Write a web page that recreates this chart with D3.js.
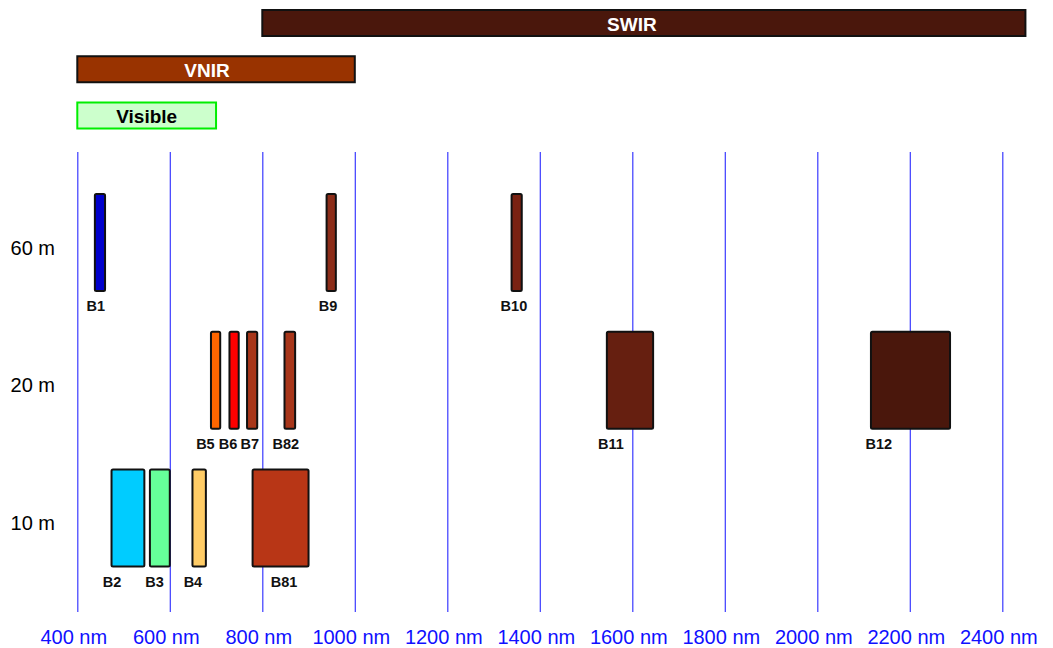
<!DOCTYPE html>
<html><head><meta charset="utf-8">
<script src="https://cdn.jsdelivr.net/npm/d3@7"></script>
<style>
body{margin:0;background:#fff;}
svg{display:block;font-family:"Liberation Sans",Arial,sans-serif;}
</style></head>
<body><svg id="c" width="1053" height="648"></svg>
<script>
// ---- data ----
const tickValues = [400, 600, 800, 1000, 1200, 1400, 1600, 1800, 2000, 2200, 2400];
const resolutions = ["60 m", "20 m", "10 m"];
const bandNames = ["B1","B2","B3","B4","B5","B6","B7","B81","B82","B9","B10","B11","B12"];
const bandStart = [438, 474, 557, 649, 689, 729, 767, 779, 848, 939, 1339, 1545, 2116];
const bandEnd   = [460, 545, 600, 678, 709, 749, 789, 900, 871, 959, 1361, 1645, 2287];
const bandRes   = ["60 m","10 m","10 m","10 m","20 m","20 m","20 m","10 m","20 m","60 m","60 m","20 m","20 m"];
const labelNm   = [440, 475, 567, 650, 677, 726, 773, 847, 851, 942, 1344, 1554, 2133];
const regionNames = ["SWIR", "VNIR", "Visible"];
const regionStart = [800, 400, 400];
const regionEnd   = [2450, 1000, 700];

// ---- styles ----
const bandColor = {B1:"#0000cc",B2:"#00ccff",B3:"#66ff99",B4:"#ffcc66",B5:"#ff6600",B6:"#ff0000",
  B7:"#a8361a",B81:"#b83616",B82:"#a8361a",B9:"#8c2d19",B10:"#7a2212",B11:"#661f10",B12:"#4a170c"};
const regionFill = {SWIR:"#4a170c", VNIR:"#993300", Visible:"#ccffcc"};
const regionStroke = {SWIR:"#111", VNIR:"#111", Visible:"#00ee00"};
const regionText = {SWIR:"#fff", VNIR:"#fff", Visible:"#000"};

const svg = d3.select("#c");
const x = d3.scaleLinear().domain([400, 2400]).range([77.3, 1002.3]);
const yRow = d3.scalePoint().domain(resolutions).range([242.5, 518]);
const yReg = d3.scalePoint().domain(regionNames).range([23, 115.5]);
const bandH = 97, regH = 26;
const axisY = 612, gridTop = 152;

// grid + axis
const axis = d3.axisBottom(x).tickValues(tickValues).tickSize(-(axisY - gridTop))
  .tickPadding(18).tickFormat(d => d + " nm");
const ag = svg.append("g").attr("transform", `translate(0,${axisY})`).call(axis);
ag.select(".domain").remove();
ag.selectAll(".tick line").attr("stroke", "#3a3aff").attr("stroke-width", 1.2);
ag.selectAll(".tick text").attr("fill", "#1010ff").attr("font-size", 20)
  .attr("dx", -4)
  .attr("font-family", "'Liberation Sans', Arial, sans-serif");

// row labels
svg.append("g").selectAll("text").data(resolutions).join("text")
  .attr("x", 55).attr("y", d => yRow(d) + 5)
  .attr("text-anchor", "end").attr("dominant-baseline", "central")
  .attr("font-size", 20).attr("fill", "#000").text(d => d);

// region bars
const reg = regionNames.map((n, i) => ({n, s: regionStart[i], e: regionEnd[i]}));
const rg = svg.append("g");
rg.selectAll("rect").data(reg).join("rect")
  .attr("x", d => x(d.s)).attr("width", d => x(d.e) - x(d.s))
  .attr("y", d => yReg(d.n) - regH / 2).attr("height", regH)
  .attr("fill", d => regionFill[d.n]).attr("stroke", d => regionStroke[d.n]).attr("stroke-width", 2);
rg.selectAll("text").data(reg).join("text")
  .attr("x", d => (x(d.s) + x(d.e)) / 2 - (d.n === "SWIR" ? 12 : d.n === "VNIR" ? 9 : 0))
  .attr("y", d => yReg(d.n) + 1)
  .attr("text-anchor", "middle").attr("dominant-baseline", "central")
  .attr("font-size", 19).attr("font-weight", "bold").attr("fill", d => regionText[d.n]).text(d => d.n);

// bands
const bands = bandNames.map((n, i) => ({n, s: bandStart[i], e: bandEnd[i], r: bandRes[i], l: labelNm[i]}));
const bg = svg.append("g");
bg.selectAll("rect").data(bands).join("rect")
  .attr("x", d => x(d.s)).attr("width", d => x(d.e) - x(d.s))
  .attr("y", d => yRow(d.r) - bandH / 2).attr("height", bandH)
  .attr("rx", 1.5)
  .attr("fill", d => bandColor[d.n]).attr("stroke", "#111").attr("stroke-width", 2);
bg.selectAll("text").data(bands).join("text")
  .attr("x", d => x(d.l)).attr("y", d => yRow(d.r) + bandH / 2 + 15)
  .attr("text-anchor", "middle").attr("dominant-baseline", "central")
  .attr("font-size", 14.5).attr("font-weight", "bold").attr("fill", "#111").text(d => d.n);
</script></body></html>
